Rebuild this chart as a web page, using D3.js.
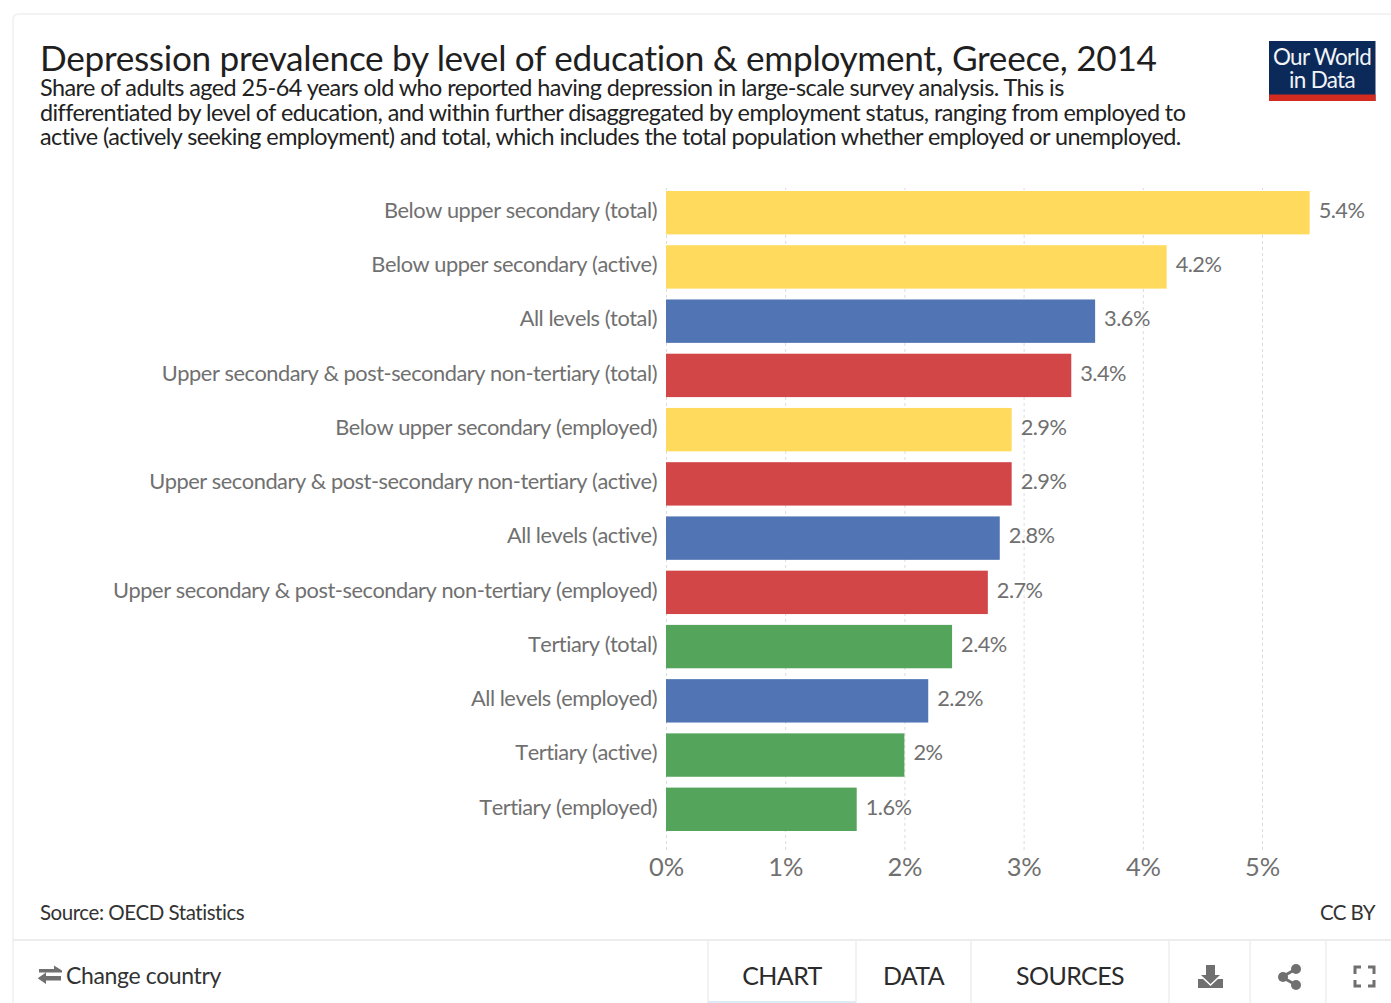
<!DOCTYPE html>
<html>
<head>
<meta charset="utf-8">
<title>Depression prevalence by education and employment</title>
<script src="https://cdn.jsdelivr.net/npm/d3@7"></script>
<style>
  html, body { margin: 0; padding: 0; background: #fff; overflow: hidden; }
  svg { display: block; font-family: Lato, "Open Sans", sans-serif; }
  .cat { font-kerning: none; }
</style>
</head>
<body>
<svg id="chart" width="1391" height="1003"></svg>
<script>
// Survey results, sorted from highest to lowest prevalence
const categories = [
  "Below upper secondary (total)",
  "Below upper secondary (active)",
  "All levels (total)",
  "Upper secondary & post-secondary non-tertiary (total)",
  "Below upper secondary (employed)",
  "Upper secondary & post-secondary non-tertiary (active)",
  "All levels (active)",
  "Upper secondary & post-secondary non-tertiary (employed)",
  "Tertiary (total)",
  "All levels (employed)",
  "Tertiary (active)",
  "Tertiary (employed)"
];
const values = [5.4, 4.2, 3.6, 3.4, 2.9, 2.9, 2.8, 2.7, 2.4, 2.2, 2.0, 1.6];
const groups = ["below", "below", "all", "upper", "below", "upper", "all", "upper", "tertiary", "all", "tertiary", "tertiary"];
const groupNames = ["below", "all", "upper", "tertiary"];
const groupColors = ["#FFD95A", "#4C71B2", "#D14244", "#51A358"];
const xTicks = [0, 1, 2, 3, 4, 5];
const subtitleLines = [
  "Share of adults aged 25-64 years old who reported having depression in large-scale survey analysis. This is",
  "differentiated by level of education, and within further disaggregated by employment status, ranging from employed to",
  "active (actively seeking employment) and total, which includes the total population whether employed or unemployed."
];
const tabs = [
  { label: "CHART", x: 782 },
  { label: "DATA", x: 913.5 },
  { label: "SOURCES", x: 1070 }
];
const tabDividers = [708, 856, 971, 1169, 1250, 1326];

const svg = d3.select("#chart");
const x = d3.scaleLinear().domain([0, 5]).range([666, 1262]);
const y = d3.scaleBand().domain(categories).range([191, 831]).paddingInner(0.2);
const color = d3.scaleOrdinal().domain(groupNames).range(groupColors);

// Card outline
const frame = svg.append("g").attr("fill", "none").attr("stroke", "#f3f3f3").attr("stroke-width", 2);
frame.append("path").attr("d", "M13,1003V20Q13,14 19,14H1391");
svg.append("line").attr("x1", 13).attr("x2", 1391).attr("y1", 940).attr("y2", 940)
  .attr("stroke", "#ececec").attr("stroke-width", 2);

// Header
svg.append("text").attr("x", 40).attr("y", 71)
  .attr("font-size", 35.2).attr("letter-spacing", -0.31).attr("fill", "#1f1f1f")
  .text("Depression prevalence by level of education & employment, Greece, 2014");
svg.append("g").selectAll("text").data(subtitleLines).join("text")
  .attr("x", 40).attr("y", (d, i) => 96 + i * 24.5)
  .attr("font-size", 23.4).attr("letter-spacing", -0.55).attr("fill", "#222")
  .text(d => d);

// Logo
const logo = svg.append("g");
logo.append("rect").attr("x", 1269).attr("y", 41).attr("width", 106.5).attr("height", 60).attr("fill", "#0B2A5A");
logo.append("rect").attr("x", 1269).attr("y", 94.5).attr("width", 106.5).attr("height", 6.5).attr("fill", "#D42B21");
logo.selectAll("text").data(["Our World", "in Data"]).join("text")
  .attr("x", 1322).attr("y", (d, i) => 65 + i * 23)
  .attr("text-anchor", "middle").attr("font-size", 22.5).attr("letter-spacing", -0.7).attr("fill", "#f2f4f7")
  .text(d => d);

// Value axis: dashed gridlines and tick labels
const axis = svg.append("g")
  .attr("transform", "translate(0,850)")
  .call(d3.axisBottom(x).tickValues(xTicks).tickFormat(d => d + "%").tickSize(-662).tickPadding(3));
axis.select(".domain").remove();
axis.selectAll(".tick line").attr("stroke", "#dcdcdc").attr("stroke-dasharray", "3,3");
axis.selectAll(".tick text").attr("font-size", 25.5).attr("letter-spacing", -0.2).attr("fill", "#707070").attr("font-family", "Lato").attr("dy", "0.9em");

// Bars
svg.append("g").selectAll("rect").data(categories).join("rect")
  .attr("x", x(0))
  .attr("y", d => y(d))
  .attr("width", (d, i) => x(values[i]) - x(0))
  .attr("height", y.bandwidth())
  .attr("fill", (d, i) => color(groups[i]))
  .attr("fill-opacity", 0.98);

// Category labels
svg.append("g").selectAll("text").data(categories).join("text")
  .attr("class", "cat")
  .attr("x", x(0) - 9)
  .attr("y", d => y(d) + y.bandwidth() / 2)
  .attr("dy", "0.24em")
  .attr("text-anchor", "end").attr("font-size", 21.8).attr("letter-spacing", -0.47).attr("fill", "#707070")
  .text(d => d);

// Value labels
svg.append("g").selectAll("text").data(categories).join("text")
  .attr("x", (d, i) => x(values[i]) + 9)
  .attr("y", d => y(d) + y.bandwidth() / 2)
  .attr("dy", "0.24em")
  .attr("font-size", 21.8).attr("letter-spacing", -0.55).attr("fill", "#707070")
  .text((d, i) => values[i] + "%");

// Footer
svg.append("text").attr("x", 40).attr("y", 920).attr("font-size", 20.5).attr("letter-spacing", -0.45).attr("fill", "#333").text("Source: OECD Statistics");
svg.append("text").attr("x", 1375).attr("y", 920).attr("text-anchor", "end").attr("font-size", 20.5).attr("letter-spacing", -0.6).attr("fill", "#333").text("CC BY");

// Control bar
svg.append("g").selectAll("line").data(tabDividers).join("line")
  .attr("x1", d => d).attr("x2", d => d).attr("y1", 941).attr("y2", 1003)
  .attr("stroke", "#eeeeee").attr("stroke-width", 1.5);
svg.append("line").attr("x1", 708).attr("x2", 856).attr("y1", 1002).attr("y2", 1002)
  .attr("stroke", "#dcebf5").attr("stroke-width", 2);
svg.append("g").selectAll("text").data(tabs).join("text")
  .attr("x", d => d.x).attr("y", 985).attr("text-anchor", "middle")
  .attr("font-size", 25).attr("letter-spacing", -0.6).attr("fill", "#2b2b2b")
  .text(d => d.label);
svg.append("text").attr("x", 66).attr("y", 984).attr("font-size", 23).attr("letter-spacing", -0.36).attr("fill", "#333").text("Change country");

// Control bar icons
const icons = svg.append("g").attr("fill", "#707070");
icons.append("path").attr("d", "M39,969H54V965.5L62,970.5V972.5H39ZM61,976H46V972.5L38,978V978.5L46,984V980.5H61Z");
icons.append("path").attr("d", "M1206,965H1215V975H1220L1210.5,984L1201,975H1206ZM1198,979H1203L1210.5,986L1218,979H1223V988H1198Z");
icons.append("g").attr("stroke", "#707070").attr("stroke-width", 3).append("path")
  .attr("d", "M1296,969L1282,977L1296,985").attr("fill", "none");
icons.selectAll("circle").data([[1296, 969], [1283, 977], [1296, 985]]).join("circle")
  .attr("cx", d => d[0]).attr("cy", d => d[1]).attr("r", 5);
icons.append("path").attr("fill", "none").attr("stroke", "#707070").attr("stroke-width", 3)
  .attr("d", "M1355,974V967H1361M1368,967H1374V974M1374,980V986H1368M1361,986H1355V980");
</script>
</body>
</html>
